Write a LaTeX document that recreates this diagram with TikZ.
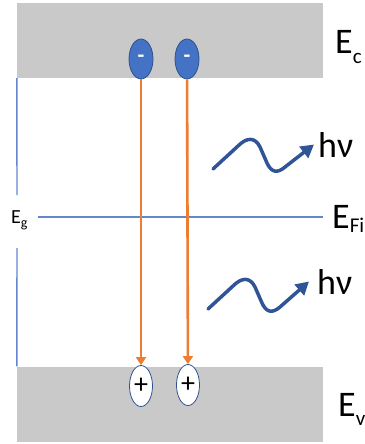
\documentclass[tikz,border=0pt]{standalone}
\usepackage{fontspec}
\setmainfont{Carlito}
\usepackage{xcolor}
\usetikzlibrary{positioning, shapes.geometric, arrows.meta}
\definecolor{bandgray}{RGB}{201,201,201}
\definecolor{eblue}{RGB}{68,114,196}
\definecolor{edark}{RGB}{47,82,143}
\definecolor{lineblue}{RGB}{98,135,207}
\definecolor{wblue}{RGB}{47,85,151}
\definecolor{eorange}{RGB}{237,125,49}
\newcommand{\lowidx}[2]{\raisebox{#2}{\fontsize{21}{22}\selectfont #1}}

\begin{document}
\begin{tikzpicture}[
      x=1pt, y=-1pt,
      band/.style={fill=bandgray, inner sep=0pt, minimum width=306pt, minimum height=75pt},
      elec/.style={ellipse, draw=edark, fill=eblue, line width=0.8pt, inner sep=0pt,
                   minimum width=24pt, minimum height=40pt, text=white,
                   font=\fontsize{22}{22}\selectfont\bfseries},
      hole/.style={ellipse, draw=edark, fill=white, line width=0.8pt, inner sep=0pt,
                   minimum width=23pt, minimum height=41pt,
                   font=\fontsize{28}{28}\selectfont},
      lvl/.style={anchor=base west, inner sep=0pt, font=\fontsize{36}{38}\selectfont},
      trans/.style={eorange, line width=2.6pt, -{Triangle[length=8pt, width=10pt]}},
      wave/.style={wblue, line width=3.5pt, line cap=round, line join=round,
                   -{Triangle[length=13pt, width=14pt]}},
      gap/.style={lineblue, line width=1.4pt},
    ]
    \useasboundingbox (0,0) rectangle (364,444);
    % bands
    \node[band] (cb) at (170,40.5) {};
    \node[band] (vb) at (170,404) {};
    % carriers
    \node[elec] (e1) at (141,59) {-};
    \node[elec] (e2) at (187,59) {-};
    \node[hole] (h1) at (141,386) {+};
    \node[hole] (h2) at (188,385) {+};
    % labels
    \node[lvl] (ec) at (335,53) {E\lowidx{c}{-10pt}};
    \node[lvl] (ev) at (338,416) {E\lowidx{v}{-9pt}};
    \node[lvl] (efi) at (332,228) {E\lowidx{Fi}{-4pt}};
    \node[anchor=base west, inner sep=0pt, font=\fontsize{20}{20}\selectfont] (eg) at (11,223)
      {E\lowidx{\fontsize{14}{14}\selectfont g}{-4pt}};
    \node[lvl, inner sep=2pt] (hv1) at (316,157) {hν};
    \node[lvl, inner sep=2pt] (hv2) at (315,294) {hν};
    % gap and Fermi level
    \coordinate (egtop) at (17,195);
    \coordinate (egbot) at (17,248);
    \coordinate (fil) at (38,217);
    \draw[gap] (cb.south west) -- (egtop);
    \draw[gap] (egbot) -- (vb.north west);
    \draw[gap] (fil) -- (fil -| cb.east);
    % recombination
    \draw[trans] (e1) -- (h1);
    \draw[trans] (e2) -- (h2);
    % photons
    \coordinate (w1) at (213,169);
    \coordinate (w2) at (208,309);
    \draw[wave] (w1) -- (238,146) .. controls (247,137) and (255,137) .. (260,147)
      -- (267,163) .. controls (271,172) and (277,174) .. (285,167)
      -- ([xshift=-2pt]hv1.west);
    \draw[wave] (w2) -- (233,286) .. controls (242,277) and (250,277) .. (255,287)
      -- (262,303) .. controls (266,312) and (272,314) .. (280,307)
      -- ([xshift=-6pt]hv2.west);
  \end{tikzpicture}
\end{document}
